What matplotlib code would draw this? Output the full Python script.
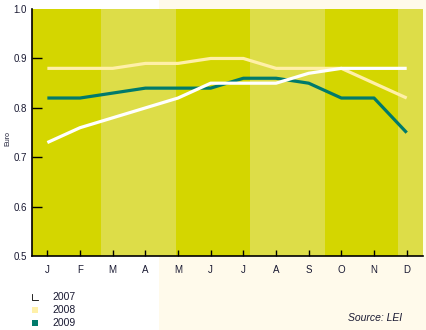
import matplotlib
matplotlib.use("Agg")
import matplotlib.pyplot as plt
from matplotlib.patches import Rectangle
from matplotlib.lines import Line2D

# monthly prices (euro)
months = ["J", "F", "M", "A", "M", "J", "J", "A", "S", "O", "N", "D"]
price_2007 = [0.73, 0.76, 0.78, 0.80, 0.82, 0.85, 0.85, 0.85, 0.87, 0.88, 0.88, 0.88]
price_2008 = [0.88, 0.88, 0.88, 0.89, 0.89, 0.90, 0.90, 0.88, 0.88, 0.88, 0.85, 0.82]
price_2009 = [0.82, 0.82, 0.83, 0.84, 0.84, 0.84, 0.86, 0.86, 0.85, 0.82, 0.82, 0.75]
years = ["2007", "2008", "2009"]
yticks = [0.5, 0.6, 0.7, 0.8, 0.9, 1.0]

# background band edges (in month index units)
band_edges = [-0.47, 1.64, 3.94, 6.2, 8.5, 10.73, 11.49]

DARK = "#d4d600"
LIGHT = "#dddd48"
CREAM = "#fffaeb"
TEXT = "#1a1a33"
COL_2007 = "#ffffff"
COL_2008 = "#fff0a8"
COL_2009 = "#007a6b"

plt.rcParams["font.family"] = ["Liberation Sans", "DejaVu Sans"]

fig = plt.figure(figsize=(4.27, 3.30), dpi=100)
fig.patch.set_facecolor("white")
fig.add_artist(Rectangle((159 / 427, 0), 1, 1, transform=fig.transFigure,
                         facecolor=CREAM, edgecolor="none", zorder=-10))

ax = fig.add_axes([32 / 427, (330 - 256.3) / 330, 390.7 / 427, 247.3 / 330])
ax.set_xlim(band_edges[0], band_edges[-1])
ax.set_ylim(0.5, 1.0)

for i in range(len(band_edges) - 1):
    ax.axvspan(band_edges[i], band_edges[i + 1],
               color=DARK if i % 2 == 0 else LIGHT, lw=0, zorder=0)

x = list(range(len(months)))
ax.plot(x, price_2008, color=COL_2008, lw=2.3, zorder=2, solid_capstyle="butt")
ax.plot(x, price_2009, color=COL_2009, lw=2.3, zorder=3, solid_capstyle="butt")
ax.plot(x, price_2007, color=COL_2007, lw=2.3, zorder=4, solid_capstyle="butt")

for s in ["top", "right"]:
    ax.spines[s].set_visible(False)
for s in ["left", "bottom"]:
    ax.spines[s].set_linewidth(1.2)
    ax.spines[s].set_zorder(5)

ax.set_xticks(x)
ax.set_xticklabels(months)
ax.set_yticks(yticks)
ax.set_yticklabels([f"{v:.1f}" for v in yticks])
ax.tick_params(axis="x", direction="in", length=4.3, width=1, pad=6,
               labelsize=7, labelcolor=TEXT)
ax.tick_params(axis="y", direction="in", length=7.2, width=1, pad=3.6,
               labelsize=7, labelcolor=TEXT)
for t in ax.yaxis.get_major_ticks():
    if t.get_loc() in (0.5, 1.0):
        t.tick1line.set_visible(False)

fig.text(8 / 427, 1 - 138 / 330, "Euro", rotation=90, ha="center", va="center",
         fontsize=5, color=TEXT)

# legend
legend_cols = [COL_2007, COL_2008, COL_2009]
legend_y = [297, 310, 323]
for yr, col, yc in zip(years, legend_cols, legend_y):
    fig.add_artist(Rectangle((32 / 427, 1 - (yc + 3) / 330), 6 / 427, 6 / 330,
                             transform=fig.transFigure, facecolor=col,
                             edgecolor="none"))
    fig.text(52 / 427, 1 - yc / 330, yr, ha="left", va="center",
             fontsize=7.5, color=TEXT)
# outline for the white 2007 swatch
fig.add_artist(Line2D([32 / 427, 32 / 427, 38 / 427],
                      [1 - 294 / 330, 1 - 300 / 330, 1 - 300 / 330],
                      transform=fig.transFigure, color="black", lw=0.6))

fig.text(402 / 427, 1 - 318 / 330, "Source: LEI", ha="right", va="center",
         fontsize=7.5, style="italic", color=TEXT)

fig.savefig("out.png", dpi=100)
